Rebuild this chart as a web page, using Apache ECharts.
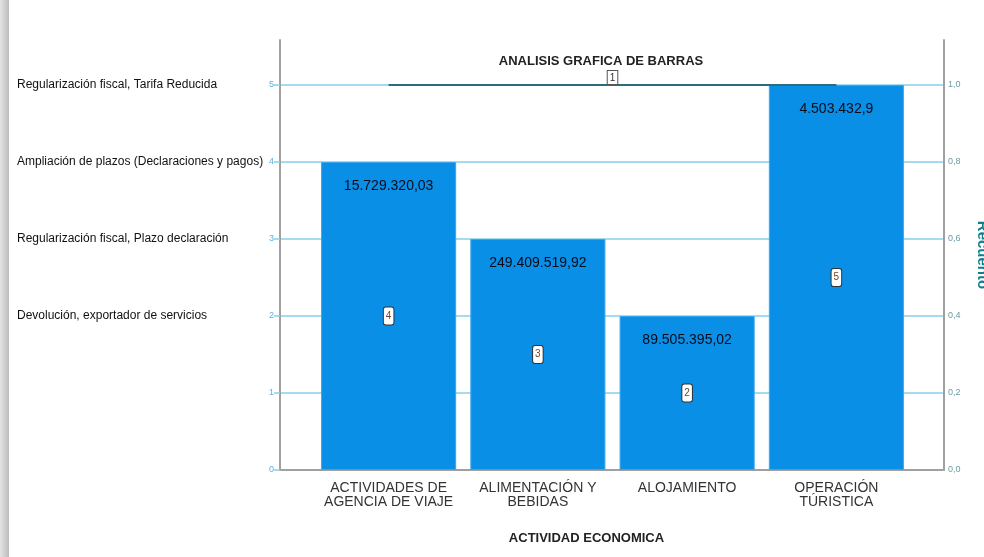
<!DOCTYPE html>
<html>
<head>
<meta charset="utf-8">
<script src="https://cdn.jsdelivr.net/npm/echarts@6/dist/echarts.min.js"></script>
<style>html,body{margin:0;padding:0;background:#fff;overflow:hidden}#c{width:984px;height:557px}</style>
</head>
<body>
<div id="c"></div>
<script>
const categories = ['ACTIVIDADES DE\nAGENCIA DE VIAJE', 'ALIMENTACIÓN Y\nBEBIDAS', 'ALOJAMIENTO', 'OPERACIÓN\nTÚRISTICA'];
const counts = [4, 3, 2, 5];
const amounts = ['15.729.320,03', '249.409.519,92', '89.505.395,02', '4.503.432,9'];
const leftTicks = [0, 1, 2, 3, 4, 5];
const yTextLabels = {5: 'Regularización fiscal, Tarifa Reducida', 4: 'Ampliación de plazos (Declaraciones y pagos)', 3: 'Regularización fiscal, Plazo declaración', 2: 'Devolución, exportador de servicios'};
const rightTicks = [0, 0.2, 0.4, 0.6, 0.8, 1.0];
const refLineValue = 5;
const refLineLabel = '1';
const refLineFrom = 0, refLineTo = 3;

const chart = echarts.init(document.getElementById('c'), null, {renderer: 'canvas', width: 984, height: 557});
const gridLine = '#86cfe8';
const axisGray = '#a0a0a0';
const sans = 'Liberation Sans, Arial, sans-serif';
chart.setOption({
  animation: false,
  backgroundColor: '#fff',
  title: [{
    text: 'ANALISIS GRAFICA DE BARRAS',
    left: 596, top: 50, textAlign: 'center',
    textStyle: {fontFamily: sans, fontWeight: 'bold', fontSize: 13, color: '#222'}
  }],
  graphic: [{
    type: 'rect', left: 0, top: 0, shape: {width: 9, height: 557},
    style: {fill: new echarts.graphic.LinearGradient(0, 0, 1, 0, [{offset: 0, color: '#e4e4e4'}, {offset: 1, color: '#bdbdbd'}])}
  }],
  grid: [
    {left: 314, right: 73, top: 85, bottom: 87, outerBoundsMode: 'none', containLabel: false},
    {left: 280, right: 40, top: 85, bottom: 87, outerBoundsMode: 'none', containLabel: false},
    {left: 280, right: 40, top: 40, bottom: 87, outerBoundsMode: 'none', containLabel: false}
  ],
  xAxis: [{
    type: 'category', gridIndex: 0, data: categories,
    axisLine: {show: false},
    axisTick: {show: false},
    axisLabel: {fontFamily: sans, fontSize: 14, color: '#333', lineHeight: 14, margin: 11, interval: 0},
    name: 'ACTIVIDAD ECONOMICA', nameLocation: 'middle', nameGap: 62,
    nameTextStyle: {fontFamily: sans, fontWeight: 'bold', fontSize: 13, color: '#222', padding: [0, 52, 0, 0]}
  }, {
    type: 'category', gridIndex: 1, data: categories,
    axisLine: {show: true, lineStyle: {color: axisGray, width: 2}},
    axisTick: {show: false}, axisLabel: {show: false}
  }, {
    type: 'category', gridIndex: 2, data: categories, show: false
  }],
  yAxis: [{
    type: 'value', gridIndex: 0, min: 0, max: 5, interval: 1, show: false
  }, {
    type: 'value', gridIndex: 1, position: 'left', min: 0, max: 5, interval: 1,
    axisLine: {show: false},
    axisTick: {show: true, length: 6, lineStyle: {color: gridLine, width: 1.5}},
    axisLabel: {color: '#5ab2e0', fontSize: 9, margin: 6, fontFamily: sans,
      formatter: v => leftTicks.includes(v) ? String(v) : ''},
    splitLine: {lineStyle: {color: gridLine, width: 1.5}}
  }, {
    type: 'value', gridIndex: 1, position: 'left', min: 0, max: 5, interval: 1,
    axisLine: {show: false}, axisTick: {show: false}, splitLine: {show: false},
    axisLabel: {align: 'left', margin: 263, fontFamily: sans, fontSize: 12, color: '#111',
      formatter: v => yTextLabels[v] || ''}
  }, {
    type: 'value', gridIndex: 1, position: 'right', min: 0, max: 1, interval: 0.2,
    axisLine: {show: false},
    axisTick: {show: false},
    splitLine: {show: false},
    axisLabel: {color: '#6a9aa3', fontSize: 9, margin: 4, fontFamily: sans,
      formatter: v => rightTicks.some(t => Math.abs(t - v) < 1e-9) ? v.toFixed(1).replace('.', ',') : ''}
  }, {
    type: 'value', gridIndex: 2, position: 'left', min: 0, max: 1,
    axisLine: {show: true, lineStyle: {color: axisGray, width: 2}},
    axisTick: {show: false}, axisLabel: {show: false}, splitLine: {show: false}
  }, {
    type: 'value', gridIndex: 2, position: 'right', min: 0, max: 1,
    axisLine: {show: true, lineStyle: {color: axisGray, width: 2}},
    axisTick: {show: false}, axisLabel: {show: false}, splitLine: {show: false},
    name: 'Recuento', nameLocation: 'middle', nameRotate: -90, nameGap: 31,
    nameTextStyle: {color: '#0f7f8c', fontWeight: 'bold', fontSize: 15, fontFamily: sans}
  }],
  series: [{
    type: 'bar', xAxisIndex: 0, yAxisIndex: 0, data: counts,
    barCategoryGap: '9.5%',
    itemStyle: {color: '#0a8fe6', borderColor: '#3aa6ee', borderWidth: 1},
    label: {show: true, position: 'insideTop', distance: 17,
      formatter: p => amounts[p.dataIndex],
      fontFamily: sans, fontSize: 14, color: '#0b0b1a'},
    markLine: {
      symbol: 'none', silent: true,
      lineStyle: {color: '#2a6e7c', width: 2, type: 'solid'},
      label: {show: true, position: 'middle', formatter: refLineLabel,
        backgroundColor: '#fff', borderColor: '#555', borderWidth: 1, padding: [2, 2, 1, 2],
        fontSize: 10, color: '#333', distance: 1, fontFamily: sans},
      data: [[{coord: [refLineFrom, refLineValue]}, {coord: [refLineTo, refLineValue]}]]
    }
  }, {
    type: 'bar', xAxisIndex: 0, yAxisIndex: 0, data: counts,
    barCategoryGap: '9.5%', barGap: '-100%',
    itemStyle: {color: 'rgba(0,0,0,0)'},
    label: {show: true, position: 'inside', formatter: p => String(p.value),
      backgroundColor: '#fff', borderColor: '#333', borderWidth: 1, borderRadius: 2,
      padding: [4, 2, 3, 2], fontSize: 10, color: '#6b4a2a', fontFamily: sans}
  }]
});
</script>
</body>
</html>
